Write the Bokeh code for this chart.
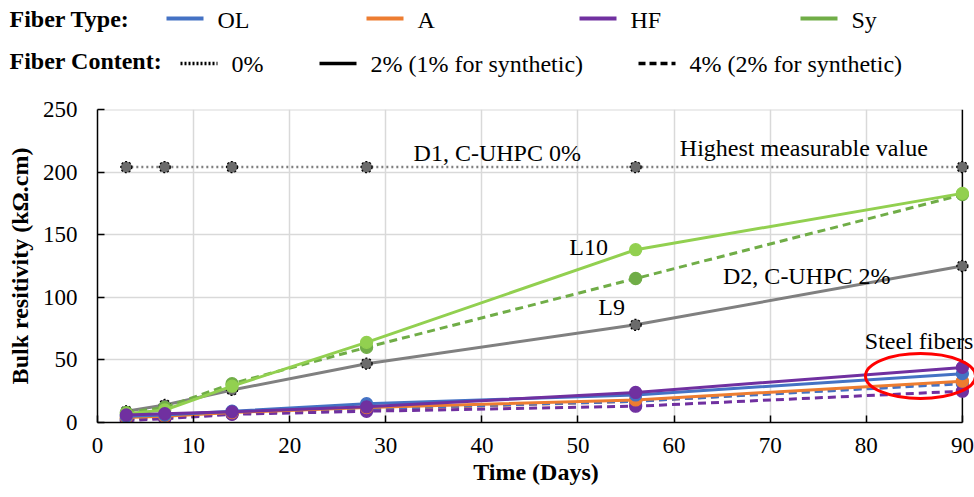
from bokeh.plotting import figure
from bokeh.layouts import column
from bokeh.models import Range1d, FixedTicker
from bokeh.core.properties import value
from bokeh.embed import file_html
from bokeh.resources import INLINE

# Curing age (days) and bulk resistivity (kOhm.cm) per mix
days = [3, 7, 14, 28, 56, 90]
d1_0pct = [204, 204, 204, 204, 204, 204]
d2_2pct = [9, 14, 26, 47, 78, 125]
sy_1pct = [7, 10, 29, 64, 138, 183]
sy_2pct = [8, 12, 31, 60, 115, 182]
ol_2pct = [5, 6, 9, 15, 22, 39]
ol_4pct = [2.5, 4, 7, 11, 17, 31]
a_2pct = [4, 5, 8, 12, 18, 33]
a_4pct = [3, 4, 7, 10.5, 17, 32]
hf_2pct = [6, 7, 8.5, 12.5, 24, 44]
hf_4pct = [1.5, 3, 6.5, 9, 13, 25]

fiber_types = ["OL", "A", "HF", "Sy"]
fiber_contents = ["0%", "2% (1% for synthetic)", "4% (2% for synthetic)"]
x_ticks = [0, 10, 20, 30, 40, 50, 60, 70, 80, 90]
y_ticks = [0, 50, 100, 150, 200, 250]

FONT = "Liberation Serif"
BLUE, ORANGE, PURPLE = "#4472C4", "#ED7D31", "#7030A0"
GREEN_LIGHT, GREEN = "#92D050", "#70AD47"
GRAY = "#808080"
GRID = "#d9d9d9"
DASH = "8 5"

# ---------------- legend strip ----------------
leg = figure(width=974, height=90, x_range=Range1d(0, 974), y_range=Range1d(90, 0),
             x_axis_type=None, y_axis_type=None, output_backend="svg",
             toolbar_location=None, min_border=0)
leg.outline_line_color = None
leg.grid.visible = False
leg.frame_align = False

type_colors = [BLUE, ORANGE, PURPLE, GREEN]
type_x = [166, 366, 579, 800]
content_dash = ["2 2", "solid", "7 4"]
content_x = [180, 319, 638]

for col, x0 in zip(type_colors, type_x):
    leg.line([x0, x0 + 37], [18, 18], line_color=col, line_width=4)
for dsh, x0 in zip(content_dash, content_x):
    leg.line([x0, x0 + 37], [63, 63], line_color="black", line_width=3.5, line_dash=dsh)

leg.text(x=[9, 9], y=[18, 60], text=["Fiber Type:", "Fiber Content:"],
         text_font=value(FONT), text_font_size="24px", text_font_style="bold",
         text_align="left", text_baseline="middle", text_color="black")
leg.text(x=[x0 + 51 for x0 in type_x] + [x0 + 51 for x0 in content_x],
         y=[19] * len(type_x) + [63] * len(content_x),
         text=fiber_types + fiber_contents,
         text_font=value(FONT), text_font_size="24px",
         text_align="left", text_baseline="middle", text_color="black")

# ---------------- main chart ----------------
x_end = 91.26
p = figure(width=974, height=407, x_range=Range1d(0, x_end), y_range=Range1d(0, 250),
           output_backend="svg", toolbar_location=None,
           min_border_left=97, min_border_right=0, min_border_top=19, min_border_bottom=75)
p.outline_line_color = None
p.frame_align = False

p.xaxis.ticker = FixedTicker(ticks=x_ticks)
p.yaxis.ticker = FixedTicker(ticks=y_ticks)
p.xaxis.bounds = (0, 90)
for ax in (p.xaxis, p.yaxis):
    ax.axis_line_color = "black"
    ax.axis_line_width = 1.5
    ax.major_tick_line_color = "black"
    ax.major_tick_line_width = 1.5
    ax.major_tick_in = 7
    ax.major_tick_out = 0
    ax.minor_tick_line_color = None
    ax.major_label_text_font = FONT
    ax.major_label_text_font_size = "23px"
    ax.major_label_text_color = "black"
    ax.axis_label_text_font = FONT
    ax.axis_label_text_font_size = "24px"
    ax.axis_label_text_font_style = "bold"
    ax.axis_label_text_color = "black"

p.xaxis.axis_label = "Time (Days)"
p.yaxis.axis_label = "Bulk resitivity (kΩ.cm)"
p.xaxis.major_label_standoff = 15
p.xaxis.axis_label_standoff = 3
p.yaxis.major_label_standoff = 20
p.yaxis.axis_label_standoff = 7

p.xgrid.ticker = FixedTicker(ticks=x_ticks[1:-1])
p.ygrid.ticker = FixedTicker(ticks=y_ticks[1:])
p.xgrid.grid_line_color = GRID
p.ygrid.grid_line_color = GRID
p.xgrid.grid_line_width = 1.5
p.ygrid.grid_line_width = 1.5

# blank strip right of day 90, then the right-hand frame line and top grid line
p.quad(left=90, right=x_end, bottom=0, top=250, fill_color="white", line_color=None)
p.segment(x0=0, y0=250, x1=90, y1=250, line_color=GRID, line_width=2)
p.segment(x0=90, y0=0, x1=90, y1=250, line_color="black", line_width=1.5)


def series(y, color, dash, mfill, mline=None, mdash="solid", size=12, width=3):
    p.line(days, y, line_color=color, line_width=width, line_dash=dash)
    p.scatter(days, y, size=size, fill_color=mfill, line_color=mline or mfill,
              line_dash=mdash, line_width=1.3)


# reference mixes
series(d1_0pct, GRAY, "2 3", "#6b6b6b", "black", "2 2", size=11, width=2.5)
series(d2_2pct, GRAY, "solid", "#6b6b6b", "black", "2 2", size=11, width=3)
# synthetic fibers
series(sy_2pct, GREEN, DASH, GREEN)
series(sy_1pct, GREEN_LIGHT, "solid", GREEN_LIGHT)
# steel fibers
series(a_4pct, ORANGE, DASH, ORANGE)
series(ol_4pct, BLUE, DASH, BLUE)
series(hf_4pct, PURPLE, DASH, PURPLE)
series(a_2pct, ORANGE, "solid", ORANGE)
series(ol_2pct, BLUE, "solid", BLUE)
series(hf_2pct, PURPLE, "solid", PURPLE)

# callouts
notes_x = [41.6, 73.5, 51.1, 53.5, 73.8, 85.5]
notes_y = [215, 219.6, 139.8, 92.6, 117.4, 64.7]
notes = ["D1, C-UHPC 0%", "Highest measurable value", "L10", "L9",
         "D2, C-UHPC 2%", "Steel fibers"]
p.text(x=notes_x, y=notes_y, text=notes, text_font=value(FONT), text_font_size="24px",
       text_align="center", text_baseline="middle", text_color="black")

p.ellipse(x=85.64, y=37.1, width=11.45, height=36, fill_color=None,
          line_color="red", line_width=3)

layout = column(leg, p, spacing=0)
open("out.html", "w").write(file_html(layout, INLINE))
